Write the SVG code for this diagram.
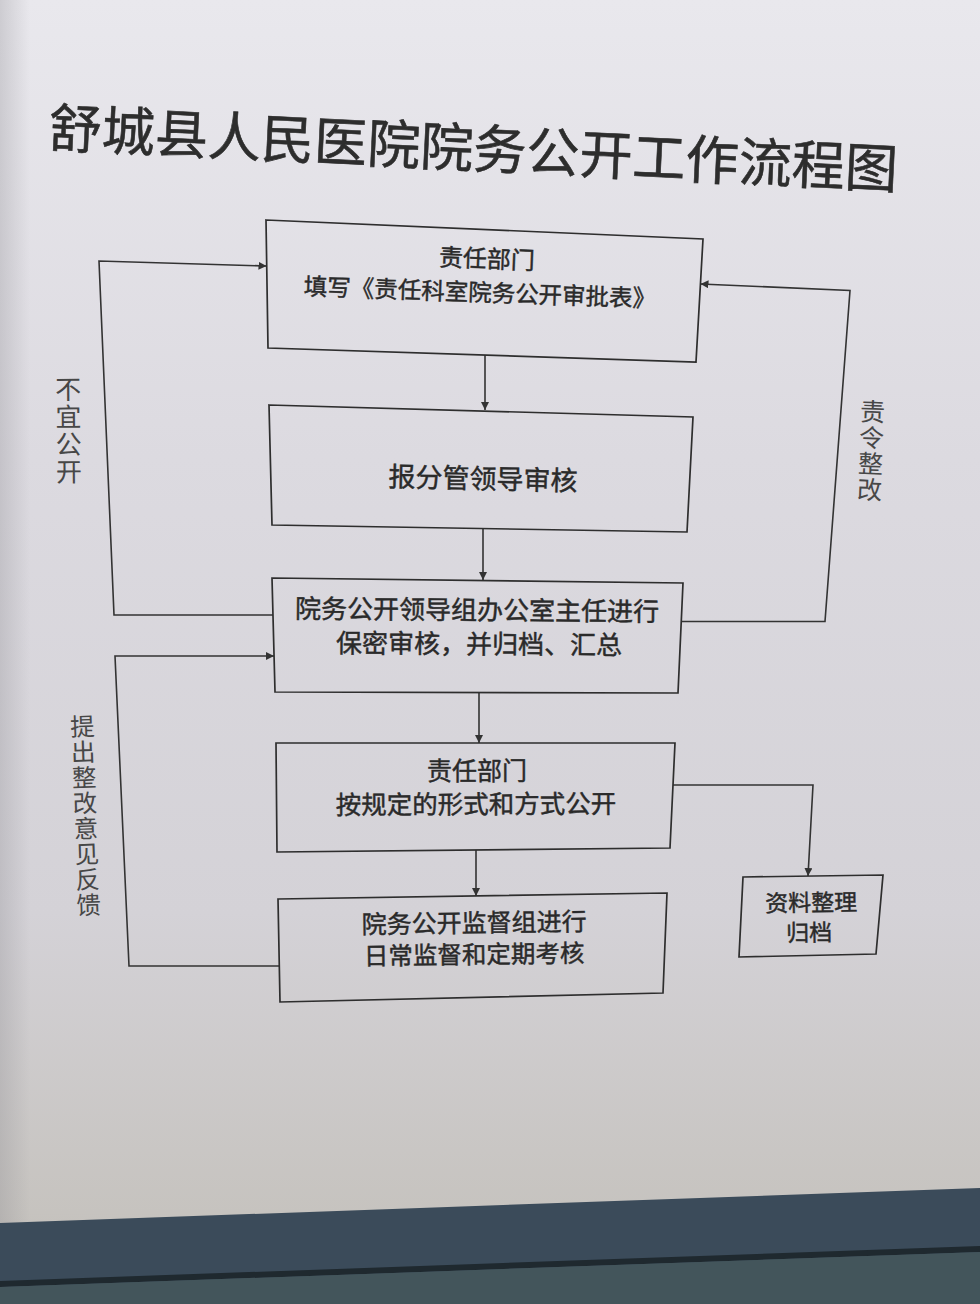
<svg xmlns="http://www.w3.org/2000/svg" width="980" height="1304" viewBox="0 0 980 1304">
  <defs>
    <linearGradient id="screen" x1="0" y1="0" x2="0" y2="1">
      <stop offset="0" stop-color="#e9e8ed"/>
      <stop offset="0.35" stop-color="#dcdae0"/>
      <stop offset="0.7" stop-color="#d4d2d7"/>
      <stop offset="0.93" stop-color="#c6c3bf"/>
      <stop offset="1" stop-color="#bdbab5"/>
    </linearGradient>
    <linearGradient id="leftShade" x1="0" y1="0" x2="1" y2="0">
      <stop offset="0" stop-color="#8e8d92" stop-opacity="0.3"/>
      <stop offset="1" stop-color="#8e8d92" stop-opacity="0"/>
    </linearGradient>
    <marker id="arrow" viewBox="0 0 10 10" refX="10" refY="5" markerWidth="8" markerHeight="8" markerUnits="userSpaceOnUse" orient="auto">
      <path d="M0,0 L10,5 L0,10 Z" fill="#333"/>
    </marker>
    <style>
      .box { fill: none; stroke: #2e2e2e; stroke-width: 1.7; stroke-linejoin: miter; }
      .conn { fill: none; stroke: #333; stroke-width: 1.6; marker-end: url(#arrow); }
      .t { font-family: "Noto Sans CJK SC", "Noto Sans", sans-serif; fill: #2a2a2a; stroke: #2a2a2a; stroke-width: 0.45; text-anchor: middle; dominant-baseline: central; }
      .lbl { font-family: "Noto Sans CJK SC", "Noto Sans", sans-serif; fill: #474747; text-anchor: middle; writing-mode: vertical-rl; }
      .title { font-family: "Noto Sans CJK SC", "Noto Sans", sans-serif; fill: #2d2d2d; stroke: #2d2d2d; stroke-width: 0.6; font-size: 53px; }
    </style>
  </defs>

  <!-- screen background -->
  <rect x="0" y="0" width="980" height="1304" fill="url(#screen)"/>
  <rect x="0" y="0" width="30" height="1304" fill="url(#leftShade)"/>
  <!-- monitor bezel at bottom -->
  <polygon points="0,1223 980,1188 980,1304 0,1304" fill="#3b4b5a"/>
  <polygon points="0,1281 980,1246 980,1252 0,1287" fill="#1f292f"/>
  <polygon points="0,1287 980,1252 980,1304 0,1304" fill="#43555b"/>

  <!-- title -->
  <g id="title">
    <text class="title" x="48" y="147" transform="rotate(2.8 48 147)" textLength="850" lengthAdjust="spacing">舒城县人民医院院务公开工作流程图</text>
  </g>

  <!-- connectors -->
  <g id="connectors">
    <path class="conn" d="M485,355 L485,410"/>
    <path class="conn" d="M483,529 L483,580"/>
    <path class="conn" d="M479,693 L479,743"/>
    <path class="conn" d="M476,850 L476,896"/>
    <path class="conn" d="M273,615 L114,615 L99,261 L266.5,266"/>
    <path class="conn" d="M681,621.5 L825,621.5 L850,290.5 L700.5,284"/>
    <path class="conn" d="M279,966 L129,966 L115,656 L274,656"/>
    <path class="conn" d="M673,785 L813,785 L808,876"/>
  </g>

  <!-- edge labels -->
  <g id="label-buyi">
    <text class="lbl" font-size="26" letter-spacing="1.5" x="68.5" y="431" transform="rotate(-0.5 68.5 431)">不宜公开</text>
  </g>
  <g id="label-zeling">
    <text class="lbl" font-size="25" letter-spacing="1" x="871" y="451" transform="rotate(2.2 871 451)">责令整改</text>
  </g>
  <g id="label-fankui">
    <text class="lbl" font-size="24.5" letter-spacing="1" x="85.5" y="816" transform="rotate(-2 85.5 816)">提出整改意见反馈</text>
  </g>

  <!-- nodes -->
  <g id="node-fill">
    <polygon class="box" points="266,220 703,239 696,362 268,348"/>
    <text class="t" font-size="24" x="487" y="257" transform="rotate(2.2 487 257)">责任部门</text>
    <text class="t" font-size="23.5" x="480" y="291" transform="rotate(2.0 480 291)">填写《责任科室院务公开审批表》</text>
  </g>
  <g id="node-review">
    <polygon class="box" points="269,405 693,417 687,532 272,525"/>
    <text class="t" font-size="27" x="483" y="477" transform="rotate(1.3 483 477)">报分管领导审核</text>
  </g>
  <g id="node-office">
    <polygon class="box" points="272,578 683,583 678,693 275,692"/>
    <text class="t" font-size="26" x="477" y="608" transform="rotate(0.5 477 608)">院务公开领导组办公室主任进行</text>
    <text class="t" font-size="26" x="479" y="642" transform="rotate(0.4 479 642)">保密审核，并归档、汇总</text>
  </g>
  <g id="node-publish">
    <polygon class="box" points="276,743 675,743 670,848 277,852"/>
    <text class="t" font-size="25" x="477" y="769">责任部门</text>
    <text class="t" font-size="25.5" x="476" y="802" transform="rotate(-0.3 476 802)">按规定的形式和方式公开</text>
  </g>
  <g id="node-supervise">
    <polygon class="box" points="278,899 667,893 663,993 280,1002"/>
    <text class="t" font-size="25" x="474" y="921" transform="rotate(-0.8 474 921)">院务公开监督组进行</text>
    <text class="t" font-size="24.5" x="474" y="953" transform="rotate(-0.8 474 953)">日常监督和定期考核</text>
  </g>
  <g id="node-archive">
    <polygon class="box" points="743,877 883,875 876,954 739,957"/>
    <text class="t" font-size="23" x="811" y="901" transform="rotate(-0.8 811 901)">资料整理</text>
    <text class="t" font-size="23" x="809" y="931" transform="rotate(-0.8 809 931)">归档</text>
  </g>
</svg>
